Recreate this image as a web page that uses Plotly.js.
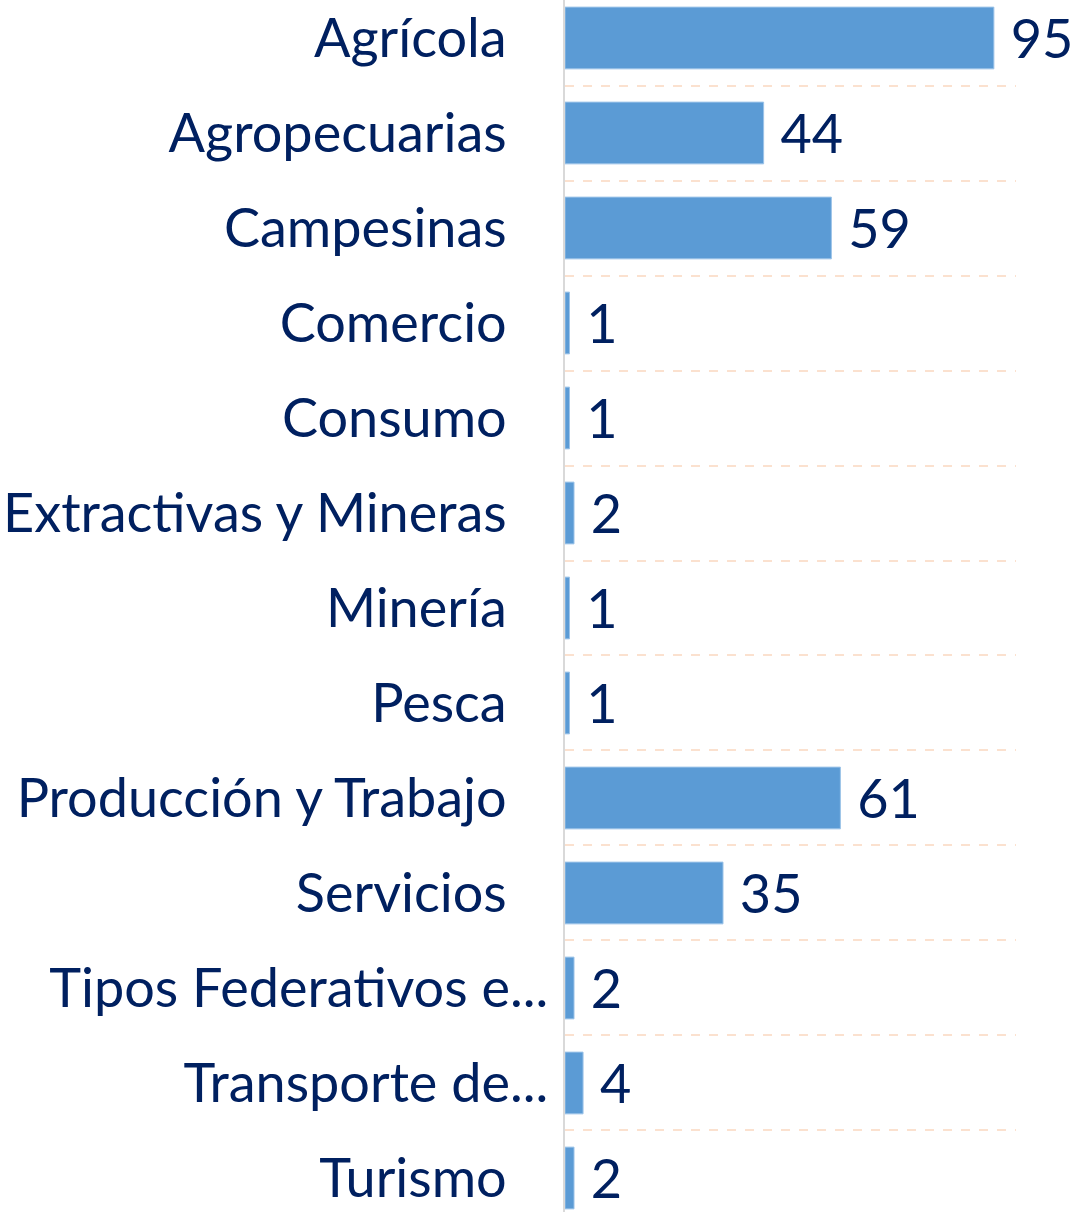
<!DOCTYPE html>
<html>
<head>
<meta charset="utf-8">
<script src="https://cdn.plot.ly/plotly-3.0.1.min.js"></script>
<style>html,body{margin:0;padding:0;background:#fff;}#chart{width:1073px;height:1212px;}</style>
</head>
<body>
<div id="chart"></div>
<script>
const categories = ["Agrícola","Agropecuarias","Campesinas","Comercio","Consumo","Extractivas y Mineras","Minería","Pesca","Producción y Trabajo","Servicios","Tipos Federativos e...","Transporte de...","Turismo"];
const values = [95,44,59,1,1,2,1,1,61,35,2,4,2];

const pad = "\u00A0\u00A0\u00A0";
const tickText = categories.map(c => c.endsWith("...") ? c : c + pad);

const trace = {
  type: "bar",
  orientation: "h",
  y: categories,
  x: values,
  text: values.map(v => "\u00A0" + v),
  textposition: "outside",
  cliponaxis: false,
  constraintext: "none",
  textfont: {family: "Lato, sans-serif", size: 54, color: "#002060"},
  marker: {color: "#5b9bd5", line: {color: "#9cc3e8", width: 1}},
  hoverinfo: "none"
};

const layout = {
  width: 1073,
  height: 1212,
  margin: {l: 565, r: 57, t: 0, b: 0, pad: 0},
  paper_bgcolor: "#ffffff",
  plot_bgcolor: "#ffffff",
  bargap: 0.35,
  showlegend: false,
  font: {family: "Lato, sans-serif", color: "#002060"},
  xaxis: {
    range: [0, 99.9],
    showgrid: false,
    zeroline: false,
    showline: false,
    showticklabels: false,
    ticks: "",
    fixedrange: true
  },
  yaxis: {
    type: "category",
    categoryorder: "array",
    categoryarray: categories,
    range: [12.358, -0.4],
    tickmode: "array",
    tickvals: categories,
    ticktext: tickText,
    tickson: "boundaries",
    ticks: "",
    showgrid: true,
    gridcolor: "#fbe1cf",
    gridwidth: 2,
    griddash: "dash",
    showline: true,
    linecolor: "#d9d9d9",
    linewidth: 2,
    zeroline: false,
    automargin: false,
    ticklabelstandoff: 4,
    tickfont: {family: "Lato, sans-serif", size: 54, color: "#002060"}
  }
};

Plotly.newPlot("chart", [trace], layout, {displayModeBar: false, staticPlot: true});
</script>
</body>
</html>
